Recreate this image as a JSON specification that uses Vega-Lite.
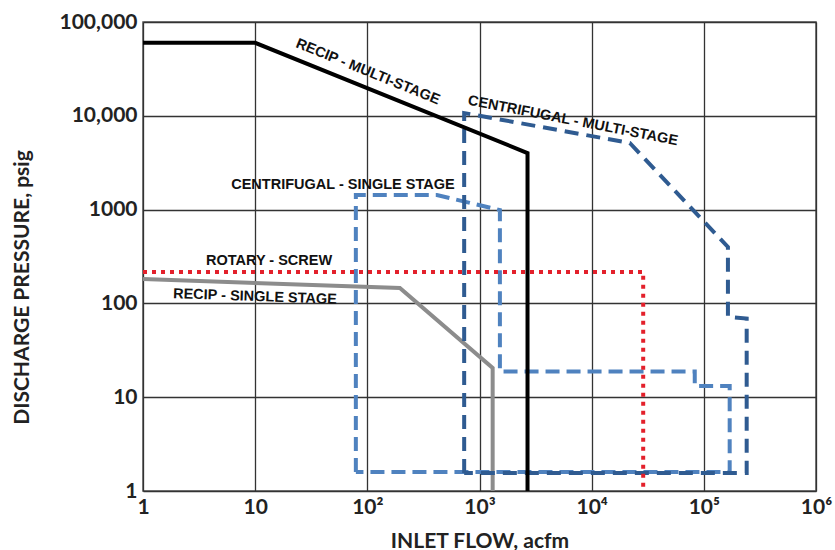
{
  "$schema": "https://vega.github.io/schema/vega-lite/v6.json",
  "width": 673,
  "height": 469,
  "autosize": {"type": "none"},
  "padding": {"left": 143, "top": 22, "right": 19, "bottom": 59},
  "background": "white",
  "config": {
    "view": {"stroke": "#555555", "strokeWidth": 1.5},
    "axis": {
      "grid": true, "gridColor": "#333333", "gridWidth": 1.3, "gridOpacity": 1,
      "ticks": false, "domain": false,
      "labelFont": "Lato", "labelFontWeight": "bold", "labelFontSize": 21, "labelColor": "#222222",
      "titleFont": "Lato", "titleFontWeight": "bold", "titleFontSize": 21, "titleColor": "#222222"
    }
  },
  "datasets": {
    "recipSingle": [
      {"x": 1, "y": 182, "o": 1},
      {"x": 195, "y": 146, "o": 2},
      {"x": 1310, "y": 20.5, "o": 3},
      {"x": 1310, "y": 1, "o": 4}
    ],
    "centSingle": [
      {"x": 79, "y": 1.59, "o": 1},
      {"x": 79, "y": 1430, "o": 2},
      {"x": 417, "y": 1430, "o": 3},
      {"x": 1520, "y": 990, "o": 4},
      {"x": 1520, "y": 18.8, "o": 5},
      {"x": 83000, "y": 18.8, "o": 6},
      {"x": 83000, "y": 13.2, "o": 7},
      {"x": 170000, "y": 13.2, "o": 8},
      {"x": 170000, "y": 1.59, "o": 9},
      {"x": 79, "y": 1.59, "o": 10}
    ],
    "centMulti": [
      {"x": 730, "y": 1.56, "o": 1},
      {"x": 730, "y": 10700, "o": 2},
      {"x": 21900, "y": 5130, "o": 3},
      {"x": 164000, "y": 400, "o": 4},
      {"x": 164000, "y": 72, "o": 5},
      {"x": 241000, "y": 69, "o": 6},
      {"x": 241000, "y": 1.56, "o": 7},
      {"x": 730, "y": 1.56, "o": 8}
    ],
    "rotary": [
      {"x": 1, "y": 216, "o": 1},
      {"x": 28800, "y": 216, "o": 2},
      {"x": 28800, "y": 1, "o": 3}
    ],
    "recipMulti": [
      {"x": 1, "y": 60000, "o": 1},
      {"x": 10, "y": 60000, "o": 2},
      {"x": 2680, "y": 4010, "o": 3},
      {"x": 2680, "y": 1, "o": 4}
    ],
    "labels": [
      {"x": 101, "y": 29300, "text": "RECIP - MULTI-STAGE", "g": "a22"},
      {"x": 6800, "y": 8800, "text": "CENTRIFUGAL - MULTI-STAGE", "g": "a11"},
      {"x": 60.6, "y": 1830, "text": "CENTRIFUGAL - SINGLE STAGE", "g": "a0"},
      {"x": 13.3, "y": 283, "text": "ROTARY - SCREW", "g": "a0"},
      {"x": 9.96, "y": 117, "text": "RECIP - SINGLE STAGE", "g": "a2"}
    ]
  },
  "layer": [
    {
      "data": {"name": "recipSingle"},
      "mark": {"type": "line", "color": "#8c8c8c", "strokeWidth": 4, "clip": true},
      "encoding": {
        "x": {"field": "x", "type": "quantitative",
              "scale": {"type": "log", "domain": [1, 1000000], "nice": false},
              "axis": {"values": [1, 10, 100, 1000, 10000, 100000, 1000000],
                       "labelExpr": "datum.value == 1 ? '1' : datum.value == 10 ? '10' : datum.value == 100 ? '10²' : datum.value == 1000 ? '10³' : datum.value == 10000 ? '10⁴' : datum.value == 100000 ? '10⁵' : '10⁶'",
                       "labelPadding": 5, "title": "INLET FLOW, acfm", "titlePadding": 13, "labelFlush": false}},
        "y": {"field": "y", "type": "quantitative",
              "scale": {"type": "log", "domain": [1, 100000], "nice": false},
              "axis": {"values": [1, 10, 100, 1000, 10000, 100000],
                       "labelExpr": "datum.value >= 10000 ? format(datum.value, ',') : format(datum.value, 'd')",
                       "labelPadding": 6, "title": "DISCHARGE PRESSURE, psig", "titlePadding": 27, "titleY": 265, "labelFlush": false}},
        "order": {"field": "o", "type": "quantitative"}
      }
    },
    {
      "data": {"name": "centSingle"},
      "mark": {"type": "line", "color": "#4f82bf", "strokeWidth": 4, "strokeDash": [14, 7], "clip": true},
      "encoding": {
        "x": {"field": "x", "type": "quantitative"},
        "y": {"field": "y", "type": "quantitative"},
        "order": {"field": "o", "type": "quantitative"}
      }
    },
    {
      "data": {"name": "centMulti"},
      "mark": {"type": "line", "color": "#2f5b91", "strokeWidth": 4, "strokeDash": [14, 8], "clip": true},
      "encoding": {
        "x": {"field": "x", "type": "quantitative"},
        "y": {"field": "y", "type": "quantitative"},
        "order": {"field": "o", "type": "quantitative"}
      }
    },
    {
      "data": {"name": "rotary"},
      "mark": {"type": "line", "color": "#e3202b", "strokeWidth": 4, "strokeDash": [4, 5], "clip": true},
      "encoding": {
        "x": {"field": "x", "type": "quantitative"},
        "y": {"field": "y", "type": "quantitative"},
        "order": {"field": "o", "type": "quantitative"}
      }
    },
    {
      "data": {"name": "recipMulti"},
      "mark": {"type": "line", "color": "#000000", "strokeWidth": 4, "clip": true},
      "encoding": {
        "x": {"field": "x", "type": "quantitative"},
        "y": {"field": "y", "type": "quantitative"},
        "order": {"field": "o", "type": "quantitative"}
      }
    },
    {
      "data": {"name": "labels"},
      "transform": [{"filter": "datum.g == 'a0'"}],
      "mark": {"type": "text", "font": "Liberation Sans", "fontWeight": "bold", "fontSize": 14.5, "color": "#111111", "align": "center", "baseline": "middle"},
      "encoding": {
        "x": {"field": "x", "type": "quantitative"},
        "y": {"field": "y", "type": "quantitative"},
        "text": {"field": "text"}
      }
    },
    {
      "data": {"name": "labels"},
      "transform": [{"filter": "datum.g == 'a2'"}],
      "mark": {"type": "text", "font": "Liberation Sans", "fontWeight": "bold", "fontSize": 14.5, "color": "#111111", "align": "center", "baseline": "middle", "angle": 2},
      "encoding": {
        "x": {"field": "x", "type": "quantitative"},
        "y": {"field": "y", "type": "quantitative"},
        "text": {"field": "text"}
      }
    },
    {
      "data": {"name": "labels"},
      "transform": [{"filter": "datum.g == 'a11'"}],
      "mark": {"type": "text", "font": "Liberation Sans", "fontWeight": "bold", "fontSize": 14.5, "color": "#111111", "align": "center", "baseline": "middle", "angle": 11},
      "encoding": {
        "x": {"field": "x", "type": "quantitative"},
        "y": {"field": "y", "type": "quantitative"},
        "text": {"field": "text"}
      }
    },
    {
      "data": {"name": "labels"},
      "transform": [{"filter": "datum.g == 'a22'"}],
      "mark": {"type": "text", "font": "Liberation Sans", "fontWeight": "bold", "fontSize": 14.5, "color": "#111111", "align": "center", "baseline": "middle", "angle": 22},
      "encoding": {
        "x": {"field": "x", "type": "quantitative"},
        "y": {"field": "y", "type": "quantitative"},
        "text": {"field": "text"}
      }
    }
  ]
}
